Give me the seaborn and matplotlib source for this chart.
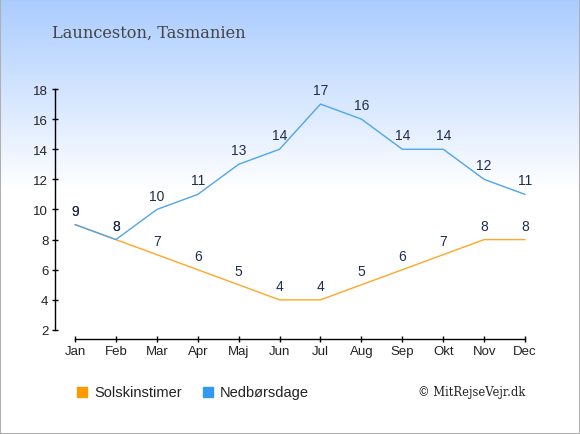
import numpy as np
import pandas as pd
import seaborn as sns
import matplotlib.pyplot as plt
from matplotlib.patches import Rectangle

# data
months = ["Jan", "Feb", "Mar", "Apr", "Maj", "Jun", "Jul", "Aug", "Sep", "Okt", "Nov", "Dec"]
sun_hours = [9, 8, 7, 6, 5, 4, 4, 5, 6, 7, 8, 8]
rain_days = [9, 8, 10, 11, 13, 14, 17, 16, 14, 14, 12, 11]
y_ticks = [2, 4, 6, 8, 10, 12, 14, 16, 18]

sun_color = "#ffa726"
rain_color = "#4ea6ea"
label_color = "#1f2d4d"

df = pd.DataFrame({
    "month": list(range(len(months))) * 2,
    "value": sun_hours + rain_days,
    "series": ["Solskinstimer"] * 12 + ["Nedbørsdage"] * 12,
})

sns.set_style("white")
plt.rcParams['font.family'] = ['Liberation Sans', 'DejaVu Sans']

fig = plt.figure(figsize=(5.8, 4.35), dpi=100)

# background gradient: light blue at the top fading to white
bg = fig.add_axes([0, 0, 1, 1], zorder=-10)
h = 435
grad = np.ones((h, 1, 3))
top = np.array([170, 204, 255]) / 255
fade = 190
for i in range(fade):
    t = i / fade
    grad[i, 0] = top * (1 - t) + np.array([1, 1, 1]) * t
bg.imshow(grad, aspect="auto", extent=[0, 1, 0, 1])
bg.add_patch(Rectangle((0, 0), 1, 1, fill=False, edgecolor="#b0b0b0", lw=1.5,
                       transform=bg.transAxes))
bg.set_axis_off()

ax = fig.add_axes([0.094, 0.2184, 0.8466, 0.5747])
ax.patch.set_alpha(0)
sns.lineplot(data=df, x="month", y="value", hue="series",
             palette={"Solskinstimer": sun_color, "Nedbørsdage": rain_color},
             linewidth=1, legend=False, ax=ax)

for series in (sun_hours, rain_days):
    for i, v in enumerate(series):
        ax.annotate(str(v), (i, v), xytext=(0, 5), textcoords="offset points",
                    ha="center", va="bottom", fontsize=10, color=label_color)

ax.set_xlim(-0.5, 11.5)
ax.set_ylim(1.4, 18)
ax.set_xticks(range(12))
ax.set_xticklabels(months)
ax.set_yticks(y_ticks)
ax.set_xlabel("")
ax.set_ylabel("")
for s in ["top", "right"]:
    ax.spines[s].set_visible(False)
ax.spines["left"].set_bounds(2, 18)
ax.spines["bottom"].set_bounds(0, 11)
for s in ["left", "bottom"]:
    ax.spines[s].set_color("black")
    ax.spines[s].set_linewidth(1)
ax.tick_params(axis="both", which="both", direction="inout", length=5, width=1,
               color="black", labelsize=9.5, labelcolor="#222222",
               left=True, bottom=True, pad=2)

fig.text(52 / 580, 1 - 38 / 435, "Launceston, Tasmanien", family="DejaVu Serif",
         fontsize=11.7, color="#444444", va="baseline")

# legend
fig.patches.append(Rectangle((77 / 580, 1 - 398 / 435), 10 / 580, 10 / 435,
                             transform=fig.transFigure, color="#ff9900"))
fig.text(94 / 580, 1 - 393 / 435, "Solskinstimer", fontsize=10.5, color="#222222", va="center")
fig.patches.append(Rectangle((203 / 580, 1 - 398 / 435), 10 / 580, 10 / 435,
                             transform=fig.transFigure, color="#3399ee"))
fig.text(220 / 580, 1 - 393 / 435, "Nedbørsdage", fontsize=10.5, color="#222222", va="center")
fig.text(418 / 580, 1 - 393 / 435, "© MitRejseVejr.dk", family="DejaVu Serif",
         fontsize=8.3, color="#222222", va="center")

fig.savefig("out.png", dpi=100)
